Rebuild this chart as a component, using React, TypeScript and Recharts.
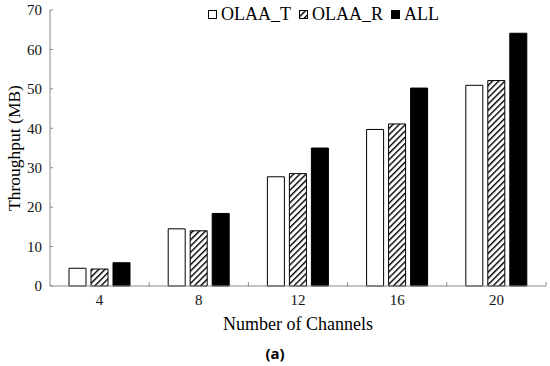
import React from 'react';
import { BarChart, Bar, XAxis, YAxis, Legend, ReferenceLine } from 'recharts';

const channels = ['4', '8', '12', '16', '20'];
const olaaT = [4.5, 14.5, 27.7, 39.7, 50.9];
const olaaR = [4.3, 14.0, 28.5, 41.1, 52.1];
const allCh = [5.9, 18.4, 35.0, 50.2, 64.1];
const yTicks = [0, 10, 20, 30, 40, 50, 60, 70];
const seriesOrder = ['OLAA_T', 'OLAA_R', 'ALL'];

const data = channels.map((c, i) => ({
  channel: c,
  OLAA_T: olaaT[i],
  OLAA_R: olaaR[i],
  ALL: allCh[i],
}));

const serif = '"Liberation Serif", "Times New Roman", serif';

const renderLegend = (props: any) => {
  const items = [...(props.payload || [])].sort(
    (a: any, b: any) => seriesOrder.indexOf(a.value) - seriesOrder.indexOf(b.value)
  );
  return (
    <div style={{ display: 'flex', alignItems: 'center', fontFamily: serif, fontSize: 18, color: '#000', whiteSpace: 'nowrap' }}>
      {items.map((e: any, i: number) => (
        <span key={i} style={{ display: 'flex', alignItems: 'center', marginRight: 8 }}>
          <svg width={9} height={9} style={{ marginRight: 4 }}>
            <rect x={0.5} y={0.5} width={8} height={8} fill={e.color} stroke="#000" strokeWidth={1} />
          </svg>
          {e.value}
        </span>
      ))}
    </div>
  );
};

const renderYLabel = (props: any) => {
  const vb = props.viewBox || { x: 0, y: 0, height: 0 };
  const cx = 14;
  const cy = vb.y + vb.height / 2;
  return (
    <text x={cx} y={cy} transform={`rotate(-90 ${cx} ${cy})`} textAnchor="middle" dominantBaseline="central"
      fontFamily={serif} fontSize={17.5} fill="#000">
      Throughput (MB)
    </text>
  );
};

export default function App() {
  return (
    <div style={{ position: 'relative', width: 550, height: 366, background: '#fff' }}>
      <style>{'body{margin:0}'}</style>
      <BarChart width={550} height={366} data={data} margin={{ top: 10, right: 4, left: 0, bottom: 0 }}
        barSize={17} barGap={5}>
        <defs>
          <pattern id="hatch" width={4.4} height={4.4} patternUnits="userSpaceOnUse" patternTransform="rotate(45)">
            <rect width={4.4} height={4.4} fill="#fff" />
            <line x1={0} y1={0} x2={0} y2={4.4} stroke="#000" strokeWidth={2.8} />
          </pattern>
        </defs>
        <XAxis dataKey="channel" height={80} axisLine={{ stroke: '#888' }} tickLine={false}
          tick={{ fontFamily: serif, fontSize: 15, fill: '#111' }}
          label={{ value: 'Number of Channels', position: 'insideTop', offset: 31, fontFamily: serif, fontSize: 18, fill: '#000' }} />
        <YAxis width={50} domain={[0, 70]} ticks={yTicks} tickSize={-3} tickMargin={11}
          axisLine={{ stroke: '#888' }} tickLine={{ stroke: '#888' }}
          tick={{ fontFamily: serif, fontSize: 15, fill: '#111' }}
          label={renderYLabel} />
        <Legend verticalAlign="middle" layout="horizontal" content={renderLegend}
          wrapperStyle={{ top: 4, left: 208, width: 'auto', height: 'auto' }} />
        {channels.map((c) => (
          <ReferenceLine key={c} segment={[{ x: c, y: 0 }, { x: c, y: 1 }]} position="end"
            stroke="#888" strokeWidth={1} ifOverflow="visible" />
        ))}
        <Bar dataKey="OLAA_T" name="OLAA_T" fill="#fff" stroke="#000" strokeWidth={1} isAnimationActive={false} />
        <Bar dataKey="OLAA_R" name="OLAA_R" fill="url(#hatch)" stroke="#000" strokeWidth={1} isAnimationActive={false} />
        <Bar dataKey="ALL" name="ALL" fill="#000" stroke="#000" strokeWidth={1} isAnimationActive={false} />
      </BarChart>
      <div style={{ position: 'absolute', left: 0, width: 550, top: 343, textAlign: 'center', fontFamily: '"Noto Sans", sans-serif', fontSize: 15, fontWeight: 700, color: '#000' }}>
        (a)
      </div>
    </div>
  );
}
